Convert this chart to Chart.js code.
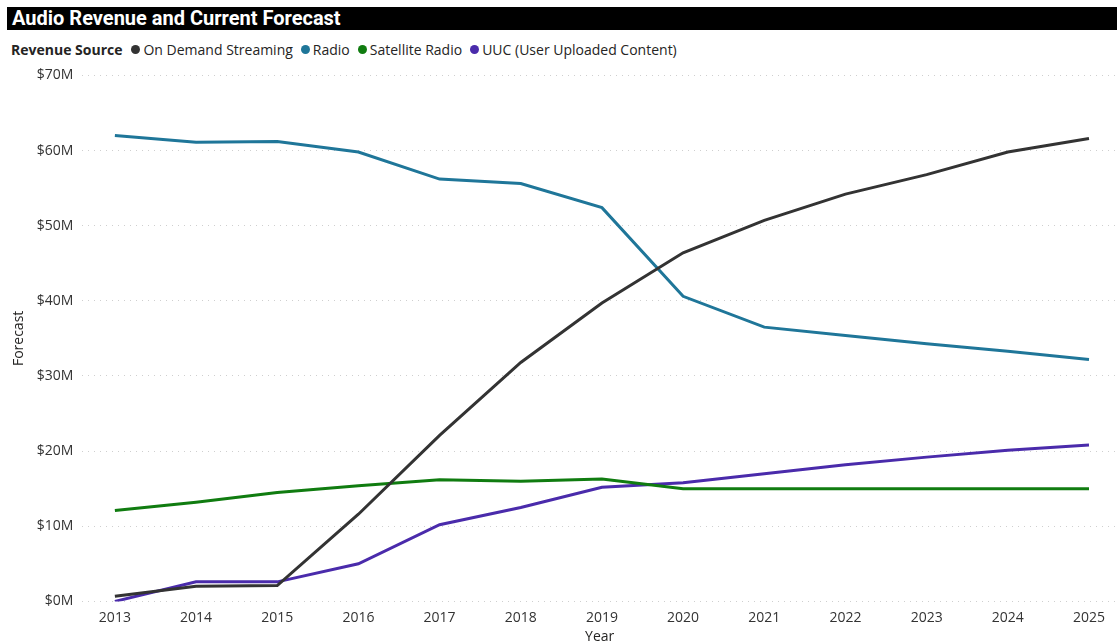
<!DOCTYPE html>
<html>
<head>
<meta charset="utf-8">
<script src="https://cdn.jsdelivr.net/npm/chart.js@4"></script>
<style>
  html, body { margin: 0; padding: 0; background: #fff; overflow: hidden; }
  body { width: 1117px; height: 644px; position: relative; font-family: 'Open Sans', sans-serif; }
  .title-bar {
    position: absolute; left: 7px; top: 7px; width: 1110px; height: 23px;
    background: #000; color: #fff;
    font-family: 'Roboto', sans-serif; font-weight: bold;
    font-size: 20px; line-height: 23px; padding-left: 5px; box-sizing: border-box;
  }
  .legend {
    position: absolute; left: 11px; top: 40px; font-size: 14px; color: #252423;
    display: flex; align-items: center; white-space: nowrap;
  }
  .legend b { margin-right: 9px; }
  .legend span.item { display: inline-flex; align-items: center; margin-right: 8px; }
  .legend i { display: inline-block; width: 9px; height: 9px; border-radius: 50%; margin-right: 3px; }
  .chart-container { position: absolute; left: 0; top: 58px; width: 1117px; height: 587px; }
</style>
</head>
<body>
<div class="title-bar">Audio Revenue and Current Forecast</div>
<div class="legend" id="legend"><b>Revenue Source</b></div>
<div class="chart-container"><canvas id="chart"></canvas></div>
<script>
// Years on the x axis
const years = [2013, 2014, 2015, 2016, 2017, 2018, 2019, 2020, 2021, 2022, 2023, 2024, 2025];

// Forecast values in $M
const onDemandStreaming = [0.7, 2.0, 2.1, 11.6, 22.1, 31.8, 39.7, 46.4, 50.7, 54.2, 56.8, 59.8, 61.6];
const radio = [62.0, 61.1, 61.2, 59.8, 56.2, 55.6, 52.4, 40.6, 36.5, 35.4, 34.3, 33.3, 32.2];
const satelliteRadio = [12.1, 13.2, 14.5, 15.4, 16.2, 16.0, 16.3, 15.0, 15.0, 15.0, 15.0, 15.0, 15.0];
const uuc = [0.0, 2.6, 2.6, 5.0, 10.2, 12.5, 15.2, 15.8, 17.0, 18.2, 19.2, 20.1, 20.8];

const seriesNames = ['On Demand Streaming', 'Radio', 'Satellite Radio', 'UUC (User Uploaded Content)'];
const seriesValues = [onDemandStreaming, radio, satelliteRadio, uuc];
const seriesColors = ['#333333', '#1f7699', '#107c10', '#4a2bab'];

const legend = document.getElementById('legend');
seriesNames.forEach((name, i) => {
  const item = document.createElement('span');
  item.className = 'item';
  item.innerHTML = '<i style="background:' + seriesColors[i] + '"></i>' + name;
  legend.appendChild(item);
});

const datasets = seriesNames.map((name, i) => ({
  label: name,
  data: years.map((y, j) => ({ x: y, y: seriesValues[i][j] * 1e6 })),
  borderColor: seriesColors[i],
  backgroundColor: seriesColors[i],
  borderWidth: 3,
  pointRadius: 0,
  tension: 0
}));

const tickColor = '#333333';
const tickFont = { family: "'Open Sans', sans-serif", size: 14 };

new Chart(document.getElementById('chart'), {
  type: 'line',
  data: { datasets },
  options: {
    responsive: true,
    maintainAspectRatio: false,
    animation: false,
    layout: { padding: { top: 4, right: 0, left: 11, bottom: 0 } },
    plugins: {
      legend: { display: false },
      tooltip: { enabled: false }
    },
    scales: {
      x: {
        type: 'linear',
        min: 2012.6,
        max: 2025.345,
        afterBuildTicks: axis => { axis.ticks = years.map(v => ({ value: v })); },
        grid: { display: false },
        border: { display: false },
        ticks: { color: tickColor, font: tickFont, padding: 0, callback: v => String(v) },
        title: { display: true, text: 'Year', color: '#252423', font: tickFont, padding: { top: 2, bottom: 0 } }
      },
      y: {
        min: 0,
        max: 70e6,
        ticks: { stepSize: 10e6, color: tickColor, font: tickFont, padding: 9, callback: v => '$' + (v / 1e6) + 'M' },
        grid: { color: '#cfcfcf', lineWidth: 1, drawTicks: false },
        border: { display: false, dash: [1, 5] },
        title: { display: true, text: 'Forecast', color: '#252423', font: tickFont, padding: { top: 0, bottom: 0 } }
      }
    }
  }
});
</script>
</body>
</html>
